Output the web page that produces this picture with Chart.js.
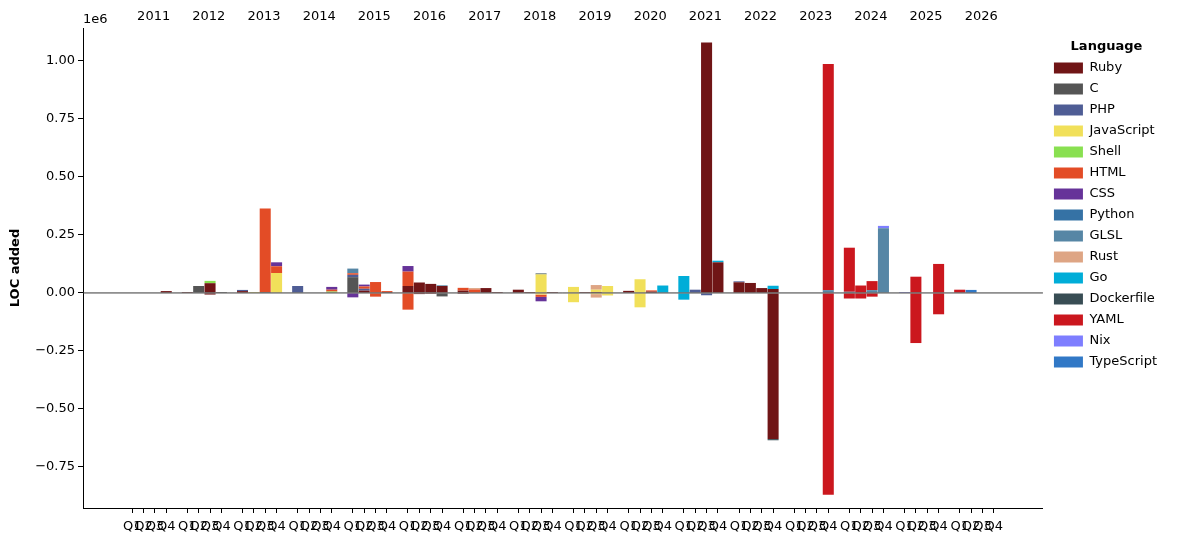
<!DOCTYPE html>
<html><head><meta charset="utf-8">
<script src="https://cdn.jsdelivr.net/npm/chart.js@4/dist/chart.umd.min.js"></script>
<style>html,body{margin:0;padding:0;background:#fff;}</style>
</head><body>
<canvas id="c" width="1180" height="542"></canvas>
<script>
// ---- categories ----
const years = [2011,2012,2013,2014,2015,2016,2017,2018,2019,2020,2021,2022,2023,2024,2025,2026];
const quarterNames = ['Q1','Q2','Q3','Q4'];
const categories = years.flatMap(y => quarterNames.map(q => y + q));
const yTickValues = [-750000,-500000,-250000,0,250000,500000,750000,1000000];
const Y_MIN = -927000, Y_MAX = 1142000;

const languages = ['Ruby','C','PHP','JavaScript','Shell','HTML','CSS','Python','GLSL','Rust','Go','Dockerfile','YAML','Nix','TypeScript'];
const languageColors = ['#701516','#555555','#4F5D95','#f1e05a','#89e051','#e34c26','#663399','#3572A5','#5686a5','#dea584','#00ADD8','#384d54','#cb171e','#7e7eff','#3178c6'];

// ---- values: [quarter, LOC] ----
const rubyAdded = [["2011Q4",8000],["2012Q1",4000],["2012Q3",42000],["2013Q1",8000],["2015Q2",10000],["2015Q4",4000],["2016Q1",30000],["2016Q2",45000],["2016Q3",39000],["2016Q4",30000],["2017Q1",10000],["2017Q3",21000],["2017Q4",4000],["2018Q1",14000],["2018Q2",4000],["2018Q4",4000],["2019Q2",4000],["2019Q3",4000],["2020Q1",9000],["2020Q3",6000],["2021Q3",1080000],["2021Q4",132000],["2022Q1",46000],["2022Q2",43000],["2022Q3",21000],["2022Q4",17000]];
const rubyRemoved = [["2012Q3",-7000],["2016Q2",-5000],["2016Q3",-4000],["2017Q1",-4000],["2022Q4",-630000]];
const cAdded = [["2012Q2",30000],["2012Q4",4000],["2013Q3",4000],["2015Q1",68000]];
const cRemoved = [["2016Q4",-15000]];
const phpAdded = [["2013Q1",5000],["2014Q1",30000],["2015Q1",10000],["2015Q2",8000],["2021Q2",14000],["2022Q1",4000]];
const phpRemoved = [["2021Q3",-10000]];
const javascriptAdded = [["2013Q2",4000],["2013Q4",86000],["2018Q3",80000],["2019Q1",26000],["2019Q3",10000],["2019Q4",30000],["2020Q2",59000]];
const javascriptRemoved = [["2018Q3",-7000],["2019Q1",-40000],["2019Q3",-5000],["2019Q4",-11000],["2020Q2",-62000]];
const shellAdded = [["2012Q3",10000],["2014Q4",6000]];
const shellRemoved = [];
const htmlAdded = [["2013Q3",360000],["2013Q4",29000],["2014Q4",8000],["2015Q1",7000],["2015Q2",10000],["2015Q3",47000],["2015Q4",4000],["2016Q1",62000],["2017Q1",12000],["2017Q2",15000],["2020Q3",5000]];
const htmlRemoved = [["2015Q3",-16000],["2016Q1",-72000],["2018Q3",-10000]];
const cssAdded = [["2013Q4",17000],["2014Q4",12000],["2015Q2",8000],["2016Q1",24000]];
const cssRemoved = [["2015Q1",-19000],["2018Q3",-19000]];
const pythonAdded = [];
const pythonRemoved = [];
const glslAdded = [["2015Q1",20000],["2016Q4",3000],["2023Q4",12000],["2024Q1",5000],["2024Q3",12000],["2024Q4",279000]];
const glslRemoved = [];
const rustAdded = [["2017Q2",6000],["2019Q3",20000]];
const rustRemoved = [["2019Q3",-15000]];
const goAdded = [["2020Q4",32000],["2021Q1",73000],["2021Q4",7000],["2022Q4",14000]];
const goRemoved = [["2021Q1",-29000]];
const dockerfileAdded = [["2018Q3",4000]];
const dockerfileRemoved = [["2022Q4",-5000]];
const yamlAdded = [["2023Q4",975000],["2024Q1",190000],["2024Q2",32000],["2024Q3",39000],["2025Q2",70000],["2025Q4",125000],["2026Q1",14000]];
const yamlRemoved = [["2023Q4",-870000],["2024Q1",-24000],["2024Q2",-24000],["2024Q3",-16000],["2025Q2",-216000],["2025Q4",-92000]];
const nixAdded = [["2024Q4",10000],["2025Q1",4000]];
const nixRemoved = [];
const typescriptAdded = [["2026Q2",13000]];
const typescriptRemoved = [];

const addedSeries = [rubyAdded,cAdded,phpAdded,javascriptAdded,shellAdded,htmlAdded,cssAdded,pythonAdded,glslAdded,rustAdded,goAdded,dockerfileAdded,yamlAdded,nixAdded,typescriptAdded];
const removedSeries = [rubyRemoved,cRemoved,phpRemoved,javascriptRemoved,shellRemoved,htmlRemoved,cssRemoved,pythonRemoved,glslRemoved,rustRemoved,goRemoved,dockerfileRemoved,yamlRemoved,nixRemoved,typescriptRemoved];

// ---- x placement of quarters (years on a linear axis) ----
const QUARTER_STEP = 0.206, BAR_SPAN = 0.2, YEAR_LABEL_OFFSET = 0.39;
function xOf(cat){ return +cat.slice(0,4) + (+cat.slice(5) - 1) * QUARTER_STEP; }
const loX = xOf(categories[0]) - BAR_SPAN/2, hiX = xOf(categories[categories.length-1]) + BAR_SPAN/2;
const X_MIN = loX - 0.05*(hiX-loX), X_MAX = hiX + 0.05*(hiX-loX);

function toPoints(series){ return series.filter(p => p[1] !== 0).map(p => ({x: xOf(p[0]), y: p[1]})); }

const FONT = "'DejaVu Sans', sans-serif";
Chart.defaults.font.family = FONT;
Chart.defaults.font.size = 13;
Chart.defaults.color = '#000';

const datasets = [];
languages.forEach((lang, i) => {
  datasets.push({type:'bar', label: lang, data: toPoints(addedSeries[i]), backgroundColor: languageColors[i], borderWidth: 0, stack: 'loc', xAxisID:'x', yAxisID:'y', barPercentage: 1, categoryPercentage: BAR_SPAN/QUARTER_STEP});
  datasets.push({type:'bar', label: lang, data: toPoints(removedSeries[i]), backgroundColor: languageColors[i], borderWidth: 0, stack: 'loc', xAxisID:'x', yAxisID:'y', barPercentage: 1, categoryPercentage: BAR_SPAN/QUARTER_STEP, isRemoved: true});
});
datasets.push({type:'line', label:'zero', data:[{x:X_MIN,y:0},{x:X_MAX,y:0}], borderColor:'#3a3a3a', borderWidth:1, pointRadius:0, order:-1, stack:'zero', xAxisID:'x', yAxisID:'y', isRemoved: true});

const legendNudge = { id:'legendNudge', afterLayout(chart){ const l = chart.legend; if (l) { l.left += 3; l.right += 3; } } };
const offsetText = { id:'offsetText', afterDraw(chart){ const ctx = chart.ctx, a = chart.chartArea; ctx.save(); ctx.font = '13px ' + FONT; ctx.fillStyle = '#000'; ctx.textAlign = 'left'; ctx.textBaseline = 'middle'; ctx.fillText('1e6', a.left, a.top - 8); ctx.restore(); } };

const fmtY = v => { const s = (Math.abs(v)/1e6).toFixed(2); return (v < 0 ? '\u2212' : '') + s; };

new Chart(document.getElementById('c'), {
  type: 'bar',
  data: { datasets },
  plugins: [legendNudge, offsetText],
  options: {
    responsive: false, devicePixelRatio: 1, animation: false, events: [],
    layout: { padding: { left: 0, right: 16, top: 0, bottom: 0 } },
    plugins: {
      tooltip: { enabled: false },
      legend: {
        position: 'right', align: 'start',
        title: { display: true, text: 'Language', color: '#000', font: { family: FONT, size: 13, weight: 'bold', lineHeight: 1 }, padding: { top: 40.5, bottom: 0 } },
        labels: { boxWidth: 29, boxHeight: 11, padding: 8, color: '#000', font: { family: FONT, size: 13 },
          filter: (item, data) => !data.datasets[item.datasetIndex].isRemoved }
      }
    },
    scales: {
      x: { type: 'linear', position: 'bottom', min: X_MIN, max: X_MAX, stacked: true, offset: false,
        afterBuildTicks: s => { s.ticks = categories.map(c => ({ value: xOf(c) })); },
        afterFit: s => { s.height = 34; },
        ticks: { autoSkip: false, maxRotation: 0, minRotation: 0, padding: 6, color: '#000', font: { family: FONT, size: 13 },
          callback: (v, i) => categories[i].slice(4) },
        grid: { display: true, drawOnChartArea: false, drawTicks: true, tickLength: 5, color: '#000', offset: false },
        border: { display: true, color: '#000', width: 1 } },
      xYears: { type: 'linear', position: 'top', axis: 'x', min: X_MIN, max: X_MAX, offset: false,
        afterBuildTicks: s => { s.ticks = years.map(y => ({ value: y + YEAR_LABEL_OFFSET })); },
        afterFit: s => { s.height = 28; },
        ticks: { autoSkip: false, maxRotation: 0, minRotation: 0, padding: 4, color: '#000', font: { family: FONT, size: 13 },
          callback: (v, i) => String(years[i]) },
        grid: { display: false, drawTicks: false, tickLength: 0 }, border: { display: false } },
      y: { type: 'linear', stacked: true, min: Y_MIN, max: Y_MAX,
        afterBuildTicks: s => { s.ticks = yTickValues.map(v => ({ value: v })); },
        afterFit: s => { s.width = 83; },
        ticks: { padding: 3, color: '#000', font: { family: FONT, size: 13 }, callback: v => fmtY(v) },
        grid: { display: true, drawOnChartArea: false, drawTicks: true, tickLength: 5, color: '#000' },
        border: { display: true, color: '#000', width: 1 },
        title: { display: true, text: 'LOC added', color: '#000', font: { family: FONT, size: 13, weight: 'bold' }, padding: { top: 8, bottom: 0 } } }
    }
  }
});
</script>
</body></html>
